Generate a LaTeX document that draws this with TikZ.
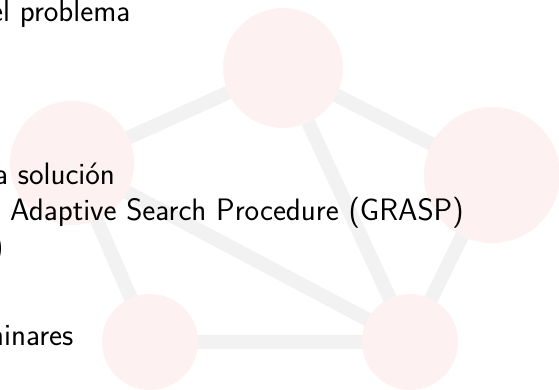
\documentclass[tikz,border=0pt]{standalone}
\usepackage{fontspec}
\usepackage{xcolor}
\usepackage{tikz}
\usetikzlibrary{backgrounds}
\definecolor{blobpink}{HTML}{FDF1F1}
\definecolor{linkgray}{HTML}{F2F2F2}
\tikzset{
  blob/.style={circle,fill=blobpink,inner sep=0pt,minimum size=#1},
  link/.style={draw=linkgray,line width=14pt},
  txt/.style={anchor=base west,inner sep=0pt}
}
\newcommand{\txtline}[4]{%
  \node[txt] (#1) at (#2,#3) {#4};}

\begin{document}
\begin{tikzpicture}[x=1pt,y=-1pt,font=\sffamily\fontsize{31}{37}\selectfont]
  \useasboundingbox (0,0) rectangle (559,390);
  % graph in the background
  \node[blob=120pt] (top) at (283,68) {};
  \node[blob=124pt] (lft) at (72,163) {};
  \node[blob=136pt] (rgt) at (492,175) {};
  \node[blob=96pt] (bl) at (150,342) {};
  \node[blob=96pt] (br) at (410,342) {};
  \begin{scope}[on background layer]
    \foreach \a/\b in {top/rgt,top/lft,top/br,lft/br,lft/bl,bl/br,rgt/br}
      {\draw[link] (\a.center) -- (\b.center);}
  \end{scope}
  % text
  \txtline{prob}{-10}{22}{el problema}
  \txtline{sol}{-6}{185}{a solución}
  \txtline{grasp}{10}{220}{Adaptive Search Procedure (GRASP)}
  \txtline{par}{-8}{256}{)}
  \txtline{prel}{-11}{345}{ninares}
\end{tikzpicture}
\end{document}
